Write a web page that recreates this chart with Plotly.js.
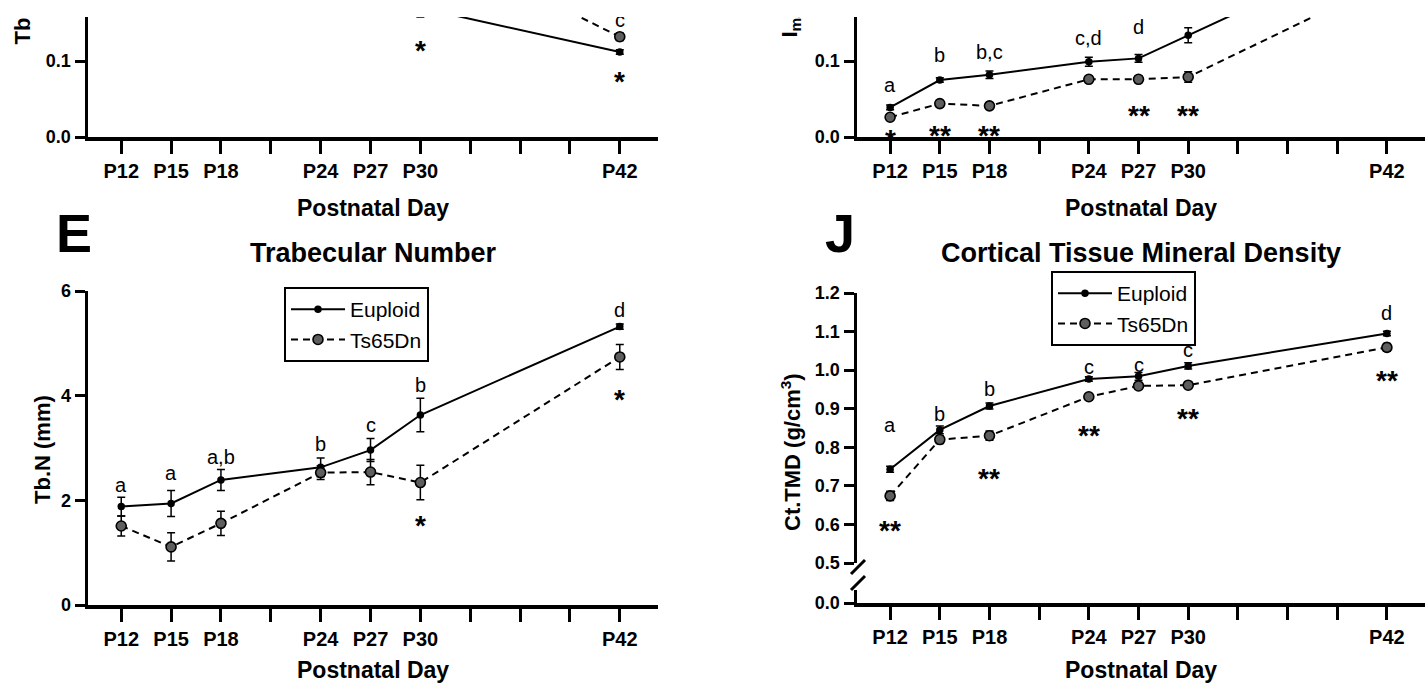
<!DOCTYPE html>
<html>
<head>
<meta charset="utf-8">
<script src="https://cdn.plot.ly/plotly-3.0.1.min.js"></script>
<style>
html,body{margin:0;padding:0;background:#fff;width:1426px;height:683px;overflow:hidden;}
#wrap{position:absolute;left:0;top:17px;width:1426px;height:666px;overflow:hidden;background:#fff;}
#chart{width:1426px;height:666px;}
</style>
</head>
<body>
<div id="wrap"><div id="chart"></div></div>
<script>
// ---------- data ----------
const days = [12, 15, 18, 24, 27, 30, 42];
const tickDays = [12, 15, 18, 24, 27, 30, 42];
const tickLabels = ['P12', 'P15', 'P18', 'P24', 'P27', 'P30', 'P42'];
const minorTickDays = [21, 33, 36, 39];
const seriesNames = ['Euploid', 'Ts65Dn'];

// top-left panel (cropped): trabecular spacing
const tlEuploid = [null, null, null, null, null, 0.170, 0.112];
const tlEuploidErr = [null, null, null, null, null, 0.012, 0.003];
const tlTs = [null, null, null, null, null, 0.262, 0.132];
const tlTsErr = [null, null, null, null, null, 0.010, 0.005];
const tlLetterDays = [42];
const tlLetters = ['c'];
const tlLetterY = [0.154];
const tlStarDays = [30, 42];
const tlStars = ['*', '*'];
const tlStarY = [0.125, 0.084];

// top-right panel (cropped): I max
const trEuploid = [0.039, 0.075, 0.082, 0.099, 0.1035, 0.134, 0.255];
const trEuploidErr = [0.003, 0.003, 0.005, 0.006, 0.005, 0.010, 0.010];
const trTs = [0.026, 0.044, 0.041, 0.076, 0.076, 0.079, 0.205];
const trTsErr = [0.004, 0.003, 0.003, 0.004, 0.004, 0.007, 0.010];
const trLetterDays = [12, 15, 18, 24, 27];
const trLetters = ['a', 'b', 'b,c', 'c,d', 'd'];
const trLetterY = [0.068, 0.108, 0.112, 0.130, 0.145];
const trStarDays = [12, 15, 18, 27, 30];
const trStars = ['*', '**', '**', '**', '**'];
const trStarY = [0.0066, 0.013, 0.013, 0.039, 0.039];

// panel E: trabecular number
const tbnEuploid = [1.88, 1.94, 2.39, 2.63, 2.96, 3.63, 5.32];
const tbnEuploidErr = [0.18, 0.25, 0.20, 0.18, 0.22, 0.32, 0.05];
const tbnTs = [1.51, 1.11, 1.56, 2.53, 2.54, 2.34, 4.74];
const tbnTsErr = [0.19, 0.27, 0.23, 0.13, 0.24, 0.33, 0.24];
const tbnLetters = ['a', 'a', 'a,b', 'b', 'c', 'b', 'd'];
const tbnLetterY = [2.29, 2.52, 2.83, 3.08, 3.44, 4.21, 5.64];
const tbnStarDays = [30, 42];
const tbnStars = ['*', '*'];
const tbnStarY = [1.68, 4.07];
const tbnTicks = [0, 2, 4, 6];

// panel J: cortical tissue mineral density
const ctEuploid = [0.743, 0.845, 0.907, 0.977, 0.984, 1.011, 1.095];
const ctEuploidErr = [0.008, 0.010, 0.008, 0.006, 0.010, 0.008, 0.006];
const ctTs = [0.674, 0.820, 0.830, 0.931, 0.959, 0.961, 1.059];
const ctTsErr = [0.012, 0.010, 0.012, 0.008, 0.008, 0.008, 0.010];
const ctLetters = ['a', 'b', 'b', 'c', 'c', 'c', 'd'];
const ctLetterY = [0.857, 0.886, 0.951, 1.008, 1.013, 1.052, 1.148];
const ctStarDays = [12, 18, 24, 30, 42];
const ctStars = ['**', '**', '**', '**', '**'];
const ctStarY = [0.604, 0.741, 0.852, 0.896, 0.995];
const ctTicks = [0.5, 0.6, 0.7, 0.8, 0.9, 1.0, 1.1, 1.2];
const ctLowTicks = [0.0];

// ---------- layout helpers ----------
const W = 1426, H = 666, OFF = 17;
const px = x => x / W;
const py = y => 1 - (y - OFF) / H;
const FONT = '"Liberation Sans", Arial, Helvetica, sans-serif';

function makeTraces(xa, ya, eu, euErr, ts, tsErr, legendId, showLegend) {
  const common = {x: days, xaxis: xa, yaxis: ya, mode: 'lines+markers', legend: legendId, showlegend: showLegend, cliponaxis: true, hoverinfo: 'skip'};
  return [
    Object.assign({}, common, {
      name: seriesNames[0], y: eu,
      line: {color: 'black', width: 2},
      marker: {symbol: 'circle', size: 7.5, color: 'black'},
      error_y: {type: 'data', array: euErr, visible: true, color: 'black', thickness: 1.5, width: 4}
    }),
    Object.assign({}, common, {
      name: seriesNames[1], y: ts,
      line: {color: 'black', width: 2, dash: '7px,5px'},
      marker: {symbol: 'circle', size: 10, color: '#5e5e5e', line: {color: 'black', width: 1.6}},
      error_y: {type: 'data', array: tsErr, visible: true, color: 'black', thickness: 1.5, width: 4}
    })
  ];
}

const traces = [].concat(
  makeTraces('x', 'y', tlEuploid, tlEuploidErr, tlTs, tlTsErr, 'legend', false),
  makeTraces('x2', 'y2', trEuploid, trEuploidErr, trTs, trTsErr, 'legend', false),
  makeTraces('x3', 'y3', tbnEuploid, tbnEuploidErr, tbnTs, tbnTsErr, 'legend', true),
  makeTraces('x4', 'y4', ctEuploid, ctEuploidErr, ctTs, ctTsErr, 'legend2', true),
  // empty trace so that the lower (broken) segment of the J y-axis gets its own subplot
  [{x: [], y: [], xaxis: 'x4', yaxis: 'y5', mode: 'markers', showlegend: false, hoverinfo: 'skip'}]
);

const axisBase = {showline: true, linecolor: 'black', linewidth: 3.5, ticks: 'outside', tickcolor: 'black',
  tickwidth: 3, showgrid: false, zeroline: false, fixedrange: true};
const xBase = Object.assign({}, axisBase, {range: [10, 44.3], tickmode: 'array', tickvals: tickDays, ticktext: tickLabels,
  ticklen: 13, tickfont: {family: FONT, size: 20, weight: 'bold', color: 'black'},
  minor: {tickmode: 'array', tickvals: minorTickDays, ticks: 'outside', ticklen: 13, tickwidth: 3, tickcolor: 'black', showgrid: false}});
const yFont = {family: FONT, size: 18, weight: 'bold', color: 'black'};
const yBase = Object.assign({}, axisBase, {tickmode: 'array', ticklen: 10, tickfont: yFont, tickformat: '.1f'});

const leftDom = [px(88), px(658)];
const rightDom = [px(857), px(1425)];

const legendBase = {xanchor: 'left', yanchor: 'top', bgcolor: 'white', bordercolor: 'black', borderwidth: 2,
  font: {family: FONT, size: 21, color: 'black'}, tracegroupgap: 0, itemwidth: 54};

const layout = {
  width: W, height: H,
  margin: {l: 0, r: 0, t: 0, b: 0, pad: 0},
  paper_bgcolor: 'white', plot_bgcolor: 'white',
  font: {family: FONT, color: 'black'},
  xaxis: Object.assign({}, xBase, {domain: leftDom, anchor: 'y'}),
  yaxis: Object.assign({}, yBase, {domain: [py(137), 1], range: [0, 0.158], tickvals: [0, 0.1], anchor: 'x'}),
  xaxis2: Object.assign({}, xBase, {domain: rightDom, anchor: 'y2'}),
  yaxis2: Object.assign({}, yBase, {domain: [py(137), 1], range: [0, 0.158], tickvals: [0, 0.1], anchor: 'x2'}),
  xaxis3: Object.assign({}, xBase, {domain: leftDom, anchor: 'y3'}),
  yaxis3: Object.assign({}, yBase, {domain: [py(605), py(291)], range: [0, 6], tickvals: tbnTicks, tickformat: 'd', anchor: 'x3'}),
  xaxis4: Object.assign({}, xBase, {domain: rightDom, anchor: 'y5'}),
  yaxis4: Object.assign({}, yBase, {domain: [py(563), py(293)], range: [0.5, 1.2], tickvals: ctTicks, anchor: 'x4'}),
  yaxis5: Object.assign({}, yBase, {domain: [py(603), py(590)], range: [0, 0.0337], tickvals: ctLowTicks, anchor: 'x4'}),
  legend: Object.assign({}, legendBase, {x: px(284), y: py(287)}),
  legend2: Object.assign({}, legendBase, {x: px(1051), y: py(271)}),
  shapes: [
    {type: 'line', xref: 'paper', yref: 'paper', x0: px(851), y0: py(574), x1: px(865), y1: py(560), line: {color: 'black', width: 3}},
    {type: 'line', xref: 'paper', yref: 'paper', x0: px(851), y0: py(590), x1: px(865), y1: py(576), line: {color: 'black', width: 3}}
  ],
  annotations: []
};

const A = layout.annotations;
function txt(text, x, y, size, bold, extra) {
  A.push(Object.assign({text: text, x: x, y: y, xref: 'paper', yref: 'paper', showarrow: false,
    xanchor: 'center', yanchor: 'middle',
    font: {family: FONT, size: size, weight: bold ? 'bold' : 'normal', color: 'black'}}, extra || {}));
}
function dataLabels(xr, yr, xs, labels, ys, size, bold, yshift) {
  labels.forEach((t, i) => {
    A.push({text: t, x: xs[i], y: ys[i], xref: xr, yref: yr, showarrow: false, yshift: yshift,
      xanchor: 'center', yanchor: 'middle',
      font: {family: FONT, size: size, weight: bold ? 'bold' : 'normal', color: 'black'}});
  });
}

// panel letters and titles
txt('E', px(74), py(233), 54, true);
txt('J', px(840), py(233), 54, true);
txt('Trabecular Number', px(373), py(253), 27, true);
txt('Cortical Tissue Mineral Density', px(1141), py(253), 27, true);
// x axis titles
txt('Postnatal Day', px(373), py(208), 23, true);
txt('Postnatal Day', px(1141), py(208), 23, true);
txt('Postnatal Day', px(373), py(670), 23, true);
txt('Postnatal Day', px(1141), py(670), 23, true);
// y axis titles
txt('Tb.Sp (mm)', px(22), py(47), 22, true, {textangle: -90, yanchor: 'bottom'});
txt('I<sub>max</sub> (mm<sup>4</sup>)', px(789), py(40), 22, true, {textangle: -90, yanchor: 'bottom'});
txt('Tb.N (mm)', px(43), py(450), 22, true, {textangle: -90});
txt('Ct.TMD (g/cm<sup>3</sup>)', px(791), py(452), 22, true, {textangle: -90});

// significance letters and asterisks
dataLabels('x', 'y', tlLetterDays, tlLetters, tlLetterY, 20, false, 0);
dataLabels('x', 'y', tlStarDays, tlStars, tlStarY, 28, true, -8);
dataLabels('x2', 'y2', trLetterDays, trLetters, trLetterY, 20, false, 0);
dataLabels('x2', 'y2', trStarDays, trStars, trStarY, 28, true, -8);
dataLabels('x3', 'y3', days, tbnLetters, tbnLetterY, 20, false, 0);
dataLabels('x3', 'y3', tbnStarDays, tbnStars, tbnStarY, 28, true, -8);
dataLabels('x4', 'y4', days, ctLetters, ctLetterY, 20, false, 0);
dataLabels('x4', 'y4', ctStarDays, ctStars, ctStarY, 28, true, -8);

Plotly.newPlot('chart', traces, layout, {displayModeBar: false, staticPlot: true});
</script>
</body>
</html>
